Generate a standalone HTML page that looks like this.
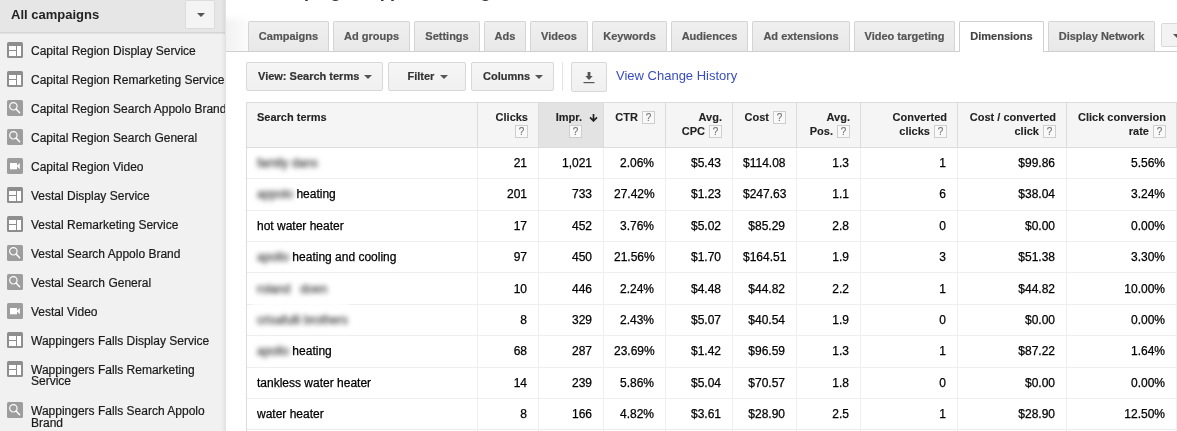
<!DOCTYPE html>
<html><head><meta charset="utf-8"><title>Search terms</title>
<style>
*{box-sizing:border-box}
html,body{margin:0;padding:0}
body{width:1177px;height:431px;overflow:hidden;position:relative;background:#fff;font-family:"Liberation Sans", Arial, Helvetica, sans-serif;color:#222}
#side{position:absolute;left:0;top:0;width:226px;height:431px;background:#f1f1f1;border-right:1px solid #e2e2e2;overflow:hidden}
#sedge{position:absolute;left:221px;top:0;width:4px;height:431px;background:linear-gradient(to right,rgba(0,0,0,0),rgba(0,0,0,0.05))}
#sh{position:absolute;left:0;top:0;width:225px;height:33px;background:#e6e6e6;border-bottom:1px solid #d5d5d5;box-shadow:0 1px 1px rgba(0,0,0,0.06)}
#sh .tt{position:absolute;left:11px;top:7px;font-size:13px;line-height:16px;font-weight:bold;color:#222}
#sh .dd{position:absolute;left:185px;top:0;width:30px;height:29px;background:#f4f4f4;border:1px solid #dcdcdc;border-radius:1px}
.arr{position:absolute;width:0;height:0;border-left:4px solid transparent;border-right:4px solid transparent;border-top:4.5px solid #555}
#sh .dd .arr{left:10.8px;top:12px}
.si{position:absolute;left:7px;width:16px;height:16px}
.si svg{display:block}
.st{position:absolute;left:31px;width:198px;font-size:12px;line-height:11px;color:#1a1a1a;-webkit-text-stroke:0.2px #1a1a1a}
.st.nw{white-space:nowrap}
#tabbg{position:absolute;left:226px;top:14px;width:30px;height:37px;background:linear-gradient(to bottom,#fff,rgba(255,255,255,0) 9px),linear-gradient(to right,#f2f2f2,#fff)}
#tabline{position:absolute;left:226px;top:50.5px;width:951px;height:1px;background:#cfcfcf}
.tab{position:absolute;top:21px;height:30px;background:linear-gradient(#f0f0f0,#e8e8e8);border:1px solid #d4d4d4;border-bottom:none;border-radius:2px 2px 0 0;font-size:11px;font-weight:bold;color:#555;-webkit-text-stroke:0.2px #555;text-align:center;line-height:28px;white-space:nowrap}
.tab.act{background:#fff;height:31px;color:#444;-webkit-text-stroke:0.2px #444;border-color:#cfcfcf}
#tabdd{position:absolute;left:1161px;top:23px;width:30px;height:24px;background:#f3f3f3;border:1px solid #d9d9d9;border-radius:2px}
#tabdd .arr{left:11px;top:10px}
.toptxt{position:absolute;top:-20px;font-size:18px;line-height:22px;font-weight:bold;color:#333;white-space:nowrap}
.btn{position:absolute;top:62px;height:29px;background:linear-gradient(#f6f6f6,#f0f0f0);border:1px solid #d8d8d8;border-radius:2px;font-size:11px;font-weight:bold;color:#333;-webkit-text-stroke:0.2px #333;line-height:27px;white-space:nowrap}
.btn .arr{top:12px}
#sep{position:absolute;left:562px;top:62px;width:1px;height:29px;background:#e4e4e4}
#vch{position:absolute;left:616px;top:68px;font-size:13px;line-height:16px;color:#3a4dbe;white-space:nowrap}
#tbl{position:absolute;left:246px;top:102px;width:940px;height:340px;border:1px solid #dcdcdc;border-right:none}
.th{position:absolute;top:102px;height:46px;background:#f5f5f5;border-top:1px solid #dcdcdc;border-bottom:1px solid #dcdcdc;font-size:11px;font-weight:bold;color:#222;-webkit-text-stroke:0.1px #222;line-height:14px}
.th.sorted{background:#e3e3e3}
.th .thi{position:absolute;top:7px;left:11px;right:10px;white-space:nowrap}
.th.r .thi{text-align:right}
.th.sorted .thi{right:21px}
.sarr{position:absolute;right:-16px;top:3.5px}
.hq{-webkit-text-stroke:0.15px #777;display:inline-block;width:13px;height:13px;border:1px solid #cecece;background:#f9f9f9;color:#777;font-weight:normal;font-size:10px;line-height:12px;text-align:center;vertical-align:-3px;overflow:hidden;margin-left:1px}
.vl{position:absolute;top:148px;width:1px;height:300px;background:#efefef}
.hvl{position:absolute;top:103px;width:1px;height:44px;background:#dcdcdc}
.tr{position:absolute;left:247px;width:940px;height:1px;background:#eeeeee}
.td{position:absolute;height:31px;margin-top:1px;font-size:12px;line-height:31px;padding:0 11px;white-space:nowrap;color:#000;-webkit-text-stroke:0.25px #000}
.td.r{text-align:right}
.bl{color:#5a5a5a;filter:blur(2.4px)}
#tl{position:absolute;left:246px;top:102px;width:1px;height:340px;background:#dcdcdc}
</style></head><body>
<div id="side">
<div id="sh"><div class="tt">All campaigns</div><div class="dd"><div class="arr"></div></div></div>
<div class="si" style="top:42px"><svg width="16" height="16" viewBox="0 0 16 16"><rect x="0" y="0" width="16" height="16" rx="1.5" fill="#8e8e8e"/><rect x="2" y="4" width="7" height="4" fill="#fff"/><rect x="2" y="9" width="7" height="5" fill="#fff"/><rect x="10" y="4" width="4" height="10" fill="#fff"/></svg></div><div class="st" style="top:45.5px">Capital Region Display Service</div><div class="si" style="top:71px"><svg width="16" height="16" viewBox="0 0 16 16"><rect x="0" y="0" width="16" height="16" rx="1.5" fill="#8e8e8e"/><rect x="2" y="4" width="7" height="4" fill="#fff"/><rect x="2" y="9" width="7" height="5" fill="#fff"/><rect x="10" y="4" width="4" height="10" fill="#fff"/></svg></div><div class="st" style="top:74.5px">Capital Region Remarketing Service</div><div class="si" style="top:100px"><svg width="16" height="16" viewBox="0 0 16 16"><rect x="0" y="0" width="16" height="16" rx="1.5" fill="#9d9d9d"/><circle cx="6.4" cy="6.3" r="3.7" fill="none" stroke="#fff" stroke-width="1.2"/><line x1="9.1" y1="9" x2="12.6" y2="12.7" stroke="#fff" stroke-width="1.5" stroke-linecap="round"/></svg></div><div class="st" style="top:103.5px">Capital Region Search Appolo Brand</div><div class="si" style="top:129px"><svg width="16" height="16" viewBox="0 0 16 16"><rect x="0" y="0" width="16" height="16" rx="1.5" fill="#9d9d9d"/><circle cx="6.4" cy="6.3" r="3.7" fill="none" stroke="#fff" stroke-width="1.2"/><line x1="9.1" y1="9" x2="12.6" y2="12.7" stroke="#fff" stroke-width="1.5" stroke-linecap="round"/></svg></div><div class="st" style="top:132.5px">Capital Region Search General</div><div class="si" style="top:158px"><svg width="16" height="16" viewBox="0 0 16 16"><rect x="0" y="0" width="16" height="16" rx="1.5" fill="#9d9d9d"/><rect x="3" y="5" width="7" height="6.3" fill="#fff"/><polygon points="9.5,8 12.8,5 12.8,11.3" fill="#fff"/></svg></div><div class="st" style="top:161.5px">Capital Region Video</div><div class="si" style="top:187px"><svg width="16" height="16" viewBox="0 0 16 16"><rect x="0" y="0" width="16" height="16" rx="1.5" fill="#8e8e8e"/><rect x="2" y="4" width="7" height="4" fill="#fff"/><rect x="2" y="9" width="7" height="5" fill="#fff"/><rect x="10" y="4" width="4" height="10" fill="#fff"/></svg></div><div class="st" style="top:190.5px">Vestal Display Service</div><div class="si" style="top:216px"><svg width="16" height="16" viewBox="0 0 16 16"><rect x="0" y="0" width="16" height="16" rx="1.5" fill="#8e8e8e"/><rect x="2" y="4" width="7" height="4" fill="#fff"/><rect x="2" y="9" width="7" height="5" fill="#fff"/><rect x="10" y="4" width="4" height="10" fill="#fff"/></svg></div><div class="st" style="top:219.5px">Vestal Remarketing Service</div><div class="si" style="top:245px"><svg width="16" height="16" viewBox="0 0 16 16"><rect x="0" y="0" width="16" height="16" rx="1.5" fill="#9d9d9d"/><circle cx="6.4" cy="6.3" r="3.7" fill="none" stroke="#fff" stroke-width="1.2"/><line x1="9.1" y1="9" x2="12.6" y2="12.7" stroke="#fff" stroke-width="1.5" stroke-linecap="round"/></svg></div><div class="st" style="top:248.5px">Vestal Search Appolo Brand</div><div class="si" style="top:274px"><svg width="16" height="16" viewBox="0 0 16 16"><rect x="0" y="0" width="16" height="16" rx="1.5" fill="#9d9d9d"/><circle cx="6.4" cy="6.3" r="3.7" fill="none" stroke="#fff" stroke-width="1.2"/><line x1="9.1" y1="9" x2="12.6" y2="12.7" stroke="#fff" stroke-width="1.5" stroke-linecap="round"/></svg></div><div class="st" style="top:277.5px">Vestal Search General</div><div class="si" style="top:303px"><svg width="16" height="16" viewBox="0 0 16 16"><rect x="0" y="0" width="16" height="16" rx="1.5" fill="#9d9d9d"/><rect x="3" y="5" width="7" height="6.3" fill="#fff"/><polygon points="9.5,8 12.8,5 12.8,11.3" fill="#fff"/></svg></div><div class="st" style="top:306.5px">Vestal Video</div><div class="si" style="top:332px"><svg width="16" height="16" viewBox="0 0 16 16"><rect x="0" y="0" width="16" height="16" rx="1.5" fill="#8e8e8e"/><rect x="2" y="4" width="7" height="4" fill="#fff"/><rect x="2" y="9" width="7" height="5" fill="#fff"/><rect x="10" y="4" width="4" height="10" fill="#fff"/></svg></div><div class="st" style="top:335.5px">Wappingers Falls Display Service</div><div class="si" style="top:361px"><svg width="16" height="16" viewBox="0 0 16 16"><rect x="0" y="0" width="16" height="16" rx="1.5" fill="#8e8e8e"/><rect x="2" y="4" width="7" height="4" fill="#fff"/><rect x="2" y="9" width="7" height="5" fill="#fff"/><rect x="10" y="4" width="4" height="10" fill="#fff"/></svg></div><div class="st" style="top:364.5px">Wappingers Falls Remarketing Service</div><div class="si" style="top:402px"><svg width="16" height="16" viewBox="0 0 16 16"><rect x="0" y="0" width="16" height="16" rx="1.5" fill="#9d9d9d"/><circle cx="6.4" cy="6.3" r="3.7" fill="none" stroke="#fff" stroke-width="1.2"/><line x1="9.1" y1="9" x2="12.6" y2="12.7" stroke="#fff" stroke-width="1.5" stroke-linecap="round"/></svg></div><div class="st" style="top:405px;line-height:12px">Wappingers Falls Search Appolo Brand</div>
<div id="sedge"></div>
</div>
<div id="tabbg"></div>
<div class="toptxt" style="left:265px">Campaign:</div><div class="toptxt" style="left:367.5px;letter-spacing:-0.8px">Appolo</div><div class="toptxt" style="left:425px">Heating</div>
<div id="tabline"></div>
<div class="tab" style="left:248px;width:81px">Campaigns</div><div class="tab" style="left:333px;width:77px">Ad groups</div><div class="tab" style="left:414px;width:66px">Settings</div><div class="tab" style="left:484px;width:42px">Ads</div><div class="tab" style="left:530px;width:58px">Videos</div><div class="tab" style="left:592px;width:75px">Keywords</div><div class="tab" style="left:671px;width:77px">Audiences</div><div class="tab" style="left:752px;width:98px">Ad extensions</div><div class="tab" style="left:854px;width:101px">Video targeting</div><div class="tab act" style="left:959px;width:85px">Dimensions</div><div class="tab" style="left:1048px;width:107px">Display Network</div>
<div id="tabdd"><div class="arr"></div></div>
<div class="btn" style="left:246px;width:137px;padding-left:11px">View: Search terms<div class="arr" style="left:116.5px"></div></div>
<div class="btn" style="left:388px;width:78px;padding-left:18.5px">Filter<div class="arr" style="left:51px"></div></div>
<div class="btn" style="left:471px;width:83px;padding-left:11px">Columns<div class="arr" style="left:62.5px"></div></div>
<div id="sep"></div>
<div class="btn" style="left:571px;width:36px;height:30px">
<svg style="position:absolute;left:11px;top:8px" width="12" height="13" viewBox="0 0 12 13"><rect x="4.6" y="1" width="2.8" height="4.5" fill="#555"/><polygon points="2.3,5 9.7,5 6,9" fill="#555"/><rect x="0.5" y="11" width="11" height="1.2" fill="#555"/></svg></div>
<div id="vch">View Change History</div>
<div class="th l" style="left:246px;width:231px"><div class="thi">Search terms</div></div><div class="th r" style="left:477px;width:61px"><div class="thi">Clicks<br><span class="hq">?</span></div></div><div class="th sorted r" style="left:538px;width:65px"><div class="thi">Impr.<br><span class="hq">?</span><svg class="sarr" width="9" height="8" viewBox="0 0 9 8"><path d="M4.5 0V6.6M1 3.4L4.5 6.9L8 3.4" fill="none" stroke="#222" stroke-width="1.7"/></svg></div></div><div class="th r" style="left:603px;width:62px"><div class="thi">CTR <span class="hq">?</span></div></div><div class="th r" style="left:665px;width:67px"><div class="thi">Avg.<br>CPC <span class="hq">?</span></div></div><div class="th r" style="left:732px;width:64px"><div class="thi">Cost <span class="hq">?</span></div></div><div class="th r" style="left:796px;width:64px"><div class="thi">Avg.<br>Pos. <span class="hq">?</span></div></div><div class="th r" style="left:860px;width:97px"><div class="thi">Converted<br>clicks <span class="hq">?</span></div></div><div class="th r" style="left:957px;width:109px"><div class="thi">Cost / converted<br>click <span class="hq">?</span></div></div><div class="th r" style="left:1066px;width:111px"><div class="thi" style="right:11px">Click conversion<br>rate <span class="hq">?</span></div></div>
<div class="hvl" style="left:477px"></div><div class="hvl" style="left:538px"></div><div class="hvl" style="left:603px"></div><div class="hvl" style="left:665px"></div><div class="hvl" style="left:732px"></div><div class="hvl" style="left:796px"></div><div class="hvl" style="left:860px"></div><div class="hvl" style="left:957px"></div><div class="hvl" style="left:1066px"></div><div class="hvl" style="left:1176px"></div>
<div class="td l" style="left:246px;top:147px;width:231px"><span class="bl">family dans</span></div><div class="td r" style="left:477px;top:147px;width:61px">21</div><div class="td r" style="left:538px;top:147px;width:65px">1,021</div><div class="td r" style="left:603px;top:147px;width:62px">2.06%</div><div class="td r" style="left:665px;top:147px;width:67px">$5.43</div><div class="td r" style="left:732px;top:147px;width:64px">$114.08</div><div class="td r" style="left:796px;top:147px;width:64px">1.3</div><div class="td r" style="left:860px;top:147px;width:97px">1</div><div class="td r" style="left:957px;top:147px;width:109px">$99.86</div><div class="td r" style="left:1066px;top:147px;width:110px">5.56%</div><div class="tr" style="top:178px"></div><div class="td l" style="left:246px;top:178px;width:231px"><span class="bl">appolo</span> heating</div><div class="td r" style="left:477px;top:178px;width:61px">201</div><div class="td r" style="left:538px;top:178px;width:65px">733</div><div class="td r" style="left:603px;top:178px;width:62px">27.42%</div><div class="td r" style="left:665px;top:178px;width:67px">$1.23</div><div class="td r" style="left:732px;top:178px;width:64px">$247.63</div><div class="td r" style="left:796px;top:178px;width:64px">1.1</div><div class="td r" style="left:860px;top:178px;width:97px">6</div><div class="td r" style="left:957px;top:178px;width:109px">$38.04</div><div class="td r" style="left:1066px;top:178px;width:110px">3.24%</div><div class="tr" style="top:210px"></div><div class="td l" style="left:246px;top:210px;width:231px">hot water heater</div><div class="td r" style="left:477px;top:210px;width:61px">17</div><div class="td r" style="left:538px;top:210px;width:65px">452</div><div class="td r" style="left:603px;top:210px;width:62px">3.76%</div><div class="td r" style="left:665px;top:210px;width:67px">$5.02</div><div class="td r" style="left:732px;top:210px;width:64px">$85.29</div><div class="td r" style="left:796px;top:210px;width:64px">2.8</div><div class="td r" style="left:860px;top:210px;width:97px">0</div><div class="td r" style="left:957px;top:210px;width:109px">$0.00</div><div class="td r" style="left:1066px;top:210px;width:110px">0.00%</div><div class="tr" style="top:241px"></div><div class="td l" style="left:246px;top:241px;width:231px"><span class="bl">apollo</span> heating and cooling</div><div class="td r" style="left:477px;top:241px;width:61px">97</div><div class="td r" style="left:538px;top:241px;width:65px">450</div><div class="td r" style="left:603px;top:241px;width:62px">21.56%</div><div class="td r" style="left:665px;top:241px;width:67px">$1.70</div><div class="td r" style="left:732px;top:241px;width:64px">$164.51</div><div class="td r" style="left:796px;top:241px;width:64px">1.9</div><div class="td r" style="left:860px;top:241px;width:97px">3</div><div class="td r" style="left:957px;top:241px;width:109px">$51.38</div><div class="td r" style="left:1066px;top:241px;width:110px">3.30%</div><div class="tr" style="top:272px"></div><div class="td l" style="left:246px;top:273px;width:231px"><span class="bl">roland&nbsp;&nbsp;&nbsp;doen</span></div><div class="td r" style="left:477px;top:273px;width:61px">10</div><div class="td r" style="left:538px;top:273px;width:65px">446</div><div class="td r" style="left:603px;top:273px;width:62px">2.24%</div><div class="td r" style="left:665px;top:273px;width:67px">$4.48</div><div class="td r" style="left:732px;top:273px;width:64px">$44.82</div><div class="td r" style="left:796px;top:273px;width:64px">2.2</div><div class="td r" style="left:860px;top:273px;width:97px">1</div><div class="td r" style="left:957px;top:273px;width:109px">$44.82</div><div class="td r" style="left:1066px;top:273px;width:110px">10.00%</div><div class="tr" style="top:304px"></div><div class="td l" style="left:246px;top:304px;width:231px"><span class="bl">crisafulli brothers</span></div><div class="td r" style="left:477px;top:304px;width:61px">8</div><div class="td r" style="left:538px;top:304px;width:65px">329</div><div class="td r" style="left:603px;top:304px;width:62px">2.43%</div><div class="td r" style="left:665px;top:304px;width:67px">$5.07</div><div class="td r" style="left:732px;top:304px;width:64px">$40.54</div><div class="td r" style="left:796px;top:304px;width:64px">1.9</div><div class="td r" style="left:860px;top:304px;width:97px">0</div><div class="td r" style="left:957px;top:304px;width:109px">$0.00</div><div class="td r" style="left:1066px;top:304px;width:110px">0.00%</div><div class="tr" style="top:335px"></div><div class="td l" style="left:246px;top:335px;width:231px"><span class="bl">apollo</span> heating</div><div class="td r" style="left:477px;top:335px;width:61px">68</div><div class="td r" style="left:538px;top:335px;width:65px">287</div><div class="td r" style="left:603px;top:335px;width:62px">23.69%</div><div class="td r" style="left:665px;top:335px;width:67px">$1.42</div><div class="td r" style="left:732px;top:335px;width:64px">$96.59</div><div class="td r" style="left:796px;top:335px;width:64px">1.3</div><div class="td r" style="left:860px;top:335px;width:97px">1</div><div class="td r" style="left:957px;top:335px;width:109px">$87.22</div><div class="td r" style="left:1066px;top:335px;width:110px">1.64%</div><div class="tr" style="top:367px"></div><div class="td l" style="left:246px;top:367px;width:231px">tankless water heater</div><div class="td r" style="left:477px;top:367px;width:61px">14</div><div class="td r" style="left:538px;top:367px;width:65px">239</div><div class="td r" style="left:603px;top:367px;width:62px">5.86%</div><div class="td r" style="left:665px;top:367px;width:67px">$5.04</div><div class="td r" style="left:732px;top:367px;width:64px">$70.57</div><div class="td r" style="left:796px;top:367px;width:64px">1.8</div><div class="td r" style="left:860px;top:367px;width:97px">0</div><div class="td r" style="left:957px;top:367px;width:109px">$0.00</div><div class="td r" style="left:1066px;top:367px;width:110px">0.00%</div><div class="tr" style="top:398px"></div><div class="td l" style="left:246px;top:398px;width:231px">water heater</div><div class="td r" style="left:477px;top:398px;width:61px">8</div><div class="td r" style="left:538px;top:398px;width:65px">166</div><div class="td r" style="left:603px;top:398px;width:62px">4.82%</div><div class="td r" style="left:665px;top:398px;width:67px">$3.61</div><div class="td r" style="left:732px;top:398px;width:64px">$28.90</div><div class="td r" style="left:796px;top:398px;width:64px">2.5</div><div class="td r" style="left:860px;top:398px;width:97px">1</div><div class="td r" style="left:957px;top:398px;width:109px">$28.90</div><div class="td r" style="left:1066px;top:398px;width:110px">12.50%</div><div class="tr" style="top:429px"></div><div class="td l" style="left:246px;top:429px;width:231px"></div><div class="td r" style="left:477px;top:429px;width:61px"></div><div class="td r" style="left:538px;top:429px;width:65px"></div><div class="td r" style="left:603px;top:429px;width:62px"></div><div class="td r" style="left:665px;top:429px;width:67px"></div><div class="td r" style="left:732px;top:429px;width:64px"></div><div class="td r" style="left:796px;top:429px;width:64px"></div><div class="td r" style="left:860px;top:429px;width:97px"></div><div class="td r" style="left:957px;top:429px;width:109px"></div><div class="td r" style="left:1066px;top:429px;width:110px"></div>
<div class="vl" style="left:477px"></div><div class="vl" style="left:538px"></div><div class="vl" style="left:603px"></div><div class="vl" style="left:665px"></div><div class="vl" style="left:732px"></div><div class="vl" style="left:796px"></div><div class="vl" style="left:860px"></div><div class="vl" style="left:957px"></div><div class="vl" style="left:1066px"></div><div class="vl" style="left:1176px"></div>
<div id="tl"></div>
<div style="position:absolute;left:252px;top:303px;width:98px;height:3px;background:linear-gradient(to right,rgba(255,255,255,0.5),rgba(255,255,255,0.85) 15%,rgba(255,255,255,0.85) 85%,rgba(255,255,255,0.5))"></div>
</body></html>
